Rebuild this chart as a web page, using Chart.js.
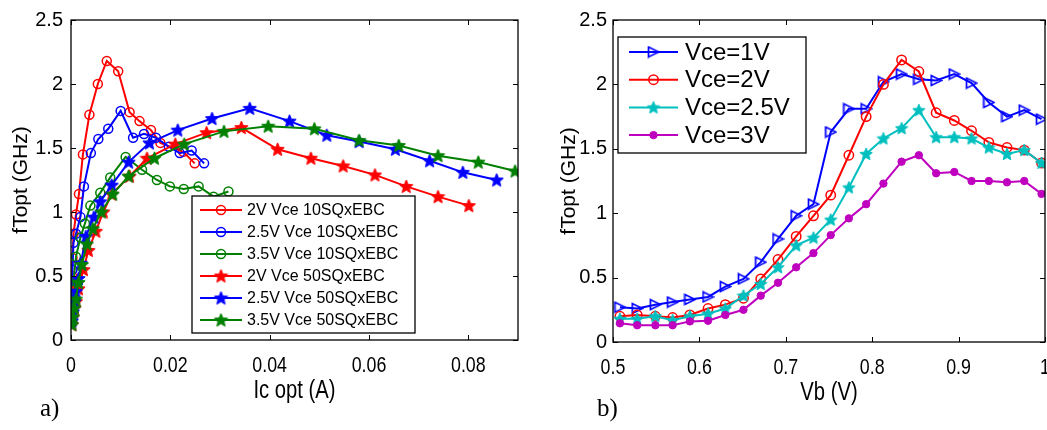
<!DOCTYPE html>
<html>
<head>
<meta charset="utf-8">
<script src="https://cdn.jsdelivr.net/npm/chart.js@4.4.1/dist/chart.umd.min.js"></script>
<style>
html,body{margin:0;padding:0;background:#fff;overflow:hidden;width:1047px;height:430px;}
#w1{position:absolute;left:0;top:0;width:530px;height:430px;}
#w2{position:absolute;left:540px;top:0;width:514px;height:430px;}
.lab{position:absolute;font-family:"Liberation Serif","Times New Roman",serif;font-size:25px;color:#000;}
</style>
</head>
<body>
<div id="w1"><canvas id="c1" width="530" height="430"></canvas></div>
<div id="w2"><canvas id="c2" width="514" height="430"></canvas></div>
<div class="lab" style="left:40px;top:394px;">a)</div>
<div class="lab" style="left:597px;top:394px;">b)</div>
<script>
// ---------- Data: panel a) fTopt vs Ic opt ----------
const leftXTicks = [0, 0.02, 0.04, 0.06, 0.08];
const leftYTicks = [0, 0.5, 1, 1.5, 2, 2.5];

const c10_2V_x  = [0.0001,0.0002,0.0003,0.0005,0.001,0.0016,0.0024,0.0037,0.0054,0.0072,0.0095,0.0118,0.0138,0.0161,0.018,0.0226,0.0249];
const c10_2V_y  = [0.3,0.5,0.64,0.83,0.98,1.14,1.45,1.76,2.0,2.18,2.1,1.78,1.71,1.64,1.54,1.47,1.38];
const c10_25V_x = [0.0001,0.0002,0.0003,0.0005,0.001,0.0019,0.0026,0.004,0.0055,0.0075,0.01,0.0125,0.0147,0.0171,0.0197,0.0219,0.0243,0.0268];
const c10_25V_y = [0.25,0.4,0.55,0.76,0.83,0.96,1.2,1.46,1.57,1.65,1.79,1.58,1.61,1.58,1.51,1.46,1.48,1.38];
const c10_35V_x = [0.0001,0.0002,0.0003,0.0005,0.001,0.0019,0.0028,0.0039,0.0059,0.0079,0.011,0.0143,0.0173,0.0199,0.0227,0.0257,0.0287,0.0317];
const c10_35V_y = [0.13,0.2,0.3,0.45,0.65,0.8,0.91,1.05,1.15,1.27,1.43,1.33,1.25,1.2,1.18,1.2,1.12,1.16];
const s50_2V_x  = [0.0002,0.0004,0.0007,0.001,0.0015,0.0025,0.0035,0.005,0.0065,0.0082,0.0118,0.0153,0.021,0.0273,0.0343,0.0416,0.0483,0.0548,0.0612,0.0675,0.0739,0.0801];
const s50_2V_y  = [0.12,0.18,0.25,0.3,0.4,0.55,0.7,0.85,1.0,1.14,1.28,1.42,1.53,1.62,1.66,1.49,1.42,1.36,1.29,1.2,1.12,1.05];
const s50_25V_x = [0.0002,0.0004,0.0007,0.001,0.0015,0.002,0.003,0.0046,0.0059,0.0082,0.0116,0.0158,0.0215,0.0284,0.036,0.044,0.0515,0.058,0.0653,0.0722,0.0789,0.0857];
const s50_25V_y = [0.15,0.22,0.3,0.38,0.48,0.6,0.81,0.96,1.08,1.21,1.39,1.54,1.64,1.73,1.81,1.71,1.6,1.55,1.49,1.4,1.31,1.25];
const s50_35V_x = [0.0002,0.0004,0.0007,0.001,0.0015,0.0022,0.0032,0.0044,0.0061,0.0084,0.0116,0.0168,0.0228,0.0308,0.0397,0.049,0.058,0.066,0.0739,0.082,0.0894];
const s50_35V_y = [0.12,0.18,0.25,0.32,0.45,0.59,0.75,0.87,1.0,1.14,1.28,1.42,1.53,1.63,1.67,1.65,1.56,1.52,1.44,1.39,1.32];

// ---------- Data: panel b) fTopt vs Vb ----------
const rightXTicks = [0.5, 0.6, 0.7, 0.8, 0.9, 1];
const rightYTicks = [0, 0.5, 1, 1.5, 2, 2.5];
const vb = [0.508,0.528,0.549,0.569,0.589,0.61,0.63,0.651,0.671,0.691,0.712,0.732,0.752,0.773,0.793,0.813,0.834,0.854,0.874,0.895,0.915,0.935,0.956,0.976,0.996];
const vce1V  = [0.27,0.26,0.29,0.31,0.33,0.35,0.43,0.49,0.62,0.8,0.98,1.07,1.63,1.81,1.81,2.02,2.08,2.04,2.03,2.08,2.01,1.86,1.75,1.8,1.73];
const vce2V  = [0.2,0.21,0.2,0.19,0.21,0.26,0.29,0.34,0.49,0.64,0.82,0.98,1.14,1.45,1.75,2.0,2.19,2.1,1.78,1.72,1.64,1.55,1.51,1.49,1.39];
const vce25V = [0.18,0.18,0.2,0.17,0.2,0.22,0.26,0.36,0.45,0.58,0.75,0.81,0.95,1.2,1.46,1.58,1.66,1.8,1.59,1.59,1.58,1.51,1.46,1.49,1.39];
const vce3V  = [0.145,0.13,0.13,0.13,0.16,0.165,0.21,0.25,0.36,0.46,0.58,0.69,0.83,0.96,1.07,1.23,1.4,1.45,1.31,1.32,1.25,1.25,1.24,1.25,1.15];

// ---------- Marker images ----------
function makeStar(color, d) {
  const c = document.createElement('canvas'); c.width = d; c.height = d;
  const g = c.getContext('2d'); const R = d/2 - 0.5, r = R*0.45, cx = d/2, cy = d/2 + 0.5;
  g.beginPath();
  for (let i = 0; i < 10; i++) {
    const a = -Math.PI/2 + i*Math.PI/5; const rad = (i % 2) ? r : R;
    g.lineTo(cx + rad*Math.cos(a), cy + rad*Math.sin(a));
  }
  g.closePath(); g.fillStyle = color; g.fill(); g.strokeStyle = color; g.lineWidth = 1; g.stroke();
  return c;
}
function makeTri(color, d) {
  const c = document.createElement('canvas'); c.width = d; c.height = d;
  const g = c.getContext('2d');
  g.beginPath(); g.moveTo(1.5, 1.5); g.lineTo(d-1.2, d/2); g.lineTo(1.5, d-1.5); g.closePath();
  g.strokeStyle = color; g.lineWidth = 1.7; g.stroke();
  return c;
}
const RED = '#ff0000', BLUE = '#0000ff', GREEN = '#008000', CYAN = '#00bfbf', MAG = '#bf00bf';
const SANS = '"Liberation Sans",Arial,sans-serif';
const SQUEEZE = 0.81;

function pts(xs, ys) { return xs.map((x, i) => ({x: x, y: ys[i]})); }

function circleDS(label, color, xs, ys, r) {
  return {label, data: pts(xs, ys), borderColor: color, backgroundColor: 'rgba(0,0,0,0)',
    pointStyle: 'circle', pointRadius: r, pointBorderWidth: 1.5, pointBorderColor: color,
    pointBackgroundColor: 'rgba(0,0,0,0)', borderWidth: 2, showLine: true, tension: 0};
}
function imgDS(label, color, xs, ys, img) {
  return {label, data: pts(xs, ys), borderColor: color, backgroundColor: color,
    pointStyle: img, pointRadius: img.width/2, borderWidth: 2, showLine: true, tension: 0};
}
function dotDS(label, color, xs, ys, r) {
  return {label, data: pts(xs, ys), borderColor: color, backgroundColor: color,
    pointStyle: 'circle', pointRadius: r, pointBorderWidth: 1, pointBorderColor: color,
    pointBackgroundColor: color, borderWidth: 2, showLine: true, tension: 0};
}

// frame + inner ticks (MATLAB style box) + condensed x tick labels and x title
const framePlugin = {
  id: 'frame',
  afterDatasetsDraw(chart, args, o) {
    const {ctx, chartArea: a, scales} = chart;
    ctx.save();
    ctx.strokeStyle = '#000'; ctx.lineWidth = 1.3;
    ctx.strokeRect(a.left, a.top, a.right - a.left, a.bottom - a.top);
    ctx.lineWidth = 1;
    const L = 5;
    scales.x.ticks.forEach(t => {
      const p = Math.round(scales.x.getPixelForValue(t.value)) + 0.5;
      ctx.beginPath(); ctx.moveTo(p, a.bottom); ctx.lineTo(p, a.bottom - L);
      ctx.moveTo(p, a.top); ctx.lineTo(p, a.top + L); ctx.stroke();
    });
    scales.y.ticks.forEach(t => {
      const p = Math.round(scales.y.getPixelForValue(t.value)) + 0.5;
      ctx.beginPath(); ctx.moveTo(a.left, p); ctx.lineTo(a.left + L, p);
      ctx.moveTo(a.right, p); ctx.lineTo(a.right - L, p); ctx.stroke();
    });
    // x tick labels (condensed, like the reference)
    ctx.fillStyle = '#000';
    ctx.textAlign = 'center'; ctx.textBaseline = 'alphabetic';
    ctx.font = o.tickSize + 'px ' + SANS;
    scales.x.ticks.forEach(t => {
      const p = scales.x.getPixelForValue(t.value);
      ctx.save(); ctx.translate(p, a.bottom + o.tickBase); ctx.scale(SQUEEZE, 1);
      ctx.fillText(String(t.value), 0, 0); ctx.restore();
    });
    // x title
    ctx.font = o.titleSize + 'px ' + SANS;
    ctx.save(); ctx.translate((a.left + a.right) / 2, a.bottom + o.titleBase); ctx.scale(SQUEEZE, 1);
    ctx.fillText(o.xTitle, 0, 0); ctx.restore();
    ctx.restore();
  }
};

// MATLAB style legend (line + marker + text)
const legendPlugin = {
  id: 'mlegend',
  afterDraw(chart, args, o) {
    if (!o || !o.box) return;
    const ctx = chart.ctx;
    ctx.save();
    const [x1, y1, x2, y2] = o.box;
    ctx.fillStyle = '#fff'; ctx.fillRect(x1, y1, x2 - x1, y2 - y1);
    ctx.strokeStyle = '#000'; ctx.lineWidth = 1.3; ctx.strokeRect(x1, y1, x2 - x1, y2 - y1);
    ctx.font = o.font; ctx.textBaseline = 'middle'; ctx.textAlign = 'left';
    chart.data.datasets.forEach((ds, i) => {
      const y = o.y0 + i * o.dy;
      ctx.strokeStyle = ds.borderColor; ctx.lineWidth = 2;
      ctx.beginPath(); ctx.moveTo(o.lx1, y); ctx.lineTo(o.lx2, y); ctx.stroke();
      const mx = (o.lx1 + o.lx2) / 2;
      if (typeof ds.pointStyle === 'object') {
        ctx.drawImage(ds.pointStyle, mx - ds.pointStyle.width/2, y - ds.pointStyle.height/2);
      } else {
        ctx.beginPath(); ctx.arc(mx, y, ds.pointRadius, 0, Math.PI*2);
        ctx.fillStyle = ds.pointBackgroundColor; ctx.fill();
        ctx.lineWidth = ds.pointBorderWidth; ctx.strokeStyle = ds.pointBorderColor; ctx.stroke();
      }
      ctx.fillStyle = '#000';
      ctx.fillText(ds.label, o.tx, y + 1);
    });
    ctx.restore();
  }
};

function xAxis(min, max, tickArr, h) {
  return {
    type: 'linear', min, max,
    afterBuildTicks: s => { s.ticks = tickArr.map(v => ({value: v})); },
    ticks: {display: false},
    grid: {display: false, drawTicks: false},
    border: {display: false},
    afterFit: s => { s.height = h; }
  };
}
function yAxis(min, max, tickArr, w, title, pad) {
  return {
    type: 'linear', min, max,
    afterBuildTicks: s => { s.ticks = tickArr.map(v => ({value: v})); },
    ticks: {callback: v => String(v), font: {family: SANS, size: 20}, color: '#000', padding: pad, autoSkip: false},
    grid: {display: false, drawTicks: false},
    border: {display: false},
    title: {display: true, text: title, font: {family: SANS, size: 21}, color: '#000', padding: {top: 0, bottom: 0}},
    afterFit: s => { s.width = w; }
  };
}

const leftDatasets = [
  circleDS('2V Vce 10SQxEBC', RED, c10_2V_x, c10_2V_y, 4.5),
  circleDS('2.5V Vce 10SQxEBC', BLUE, c10_25V_x, c10_25V_y, 4.5),
  circleDS('3.5V Vce 10SQxEBC', GREEN, c10_35V_x, c10_35V_y, 4.5),
  imgDS('2V Vce 50SQxEBC', RED, s50_2V_x, s50_2V_y, makeStar(RED, 15)),
  imgDS('2.5V Vce 50SQxEBC', BLUE, s50_25V_x, s50_25V_y, makeStar(BLUE, 15)),
  imgDS('3.5V Vce 50SQxEBC', GREEN, s50_35V_x, s50_35V_y, makeStar(GREEN, 15))
];
leftDatasets.forEach((d, i) => { d.order = leftDatasets.length - i; });

new Chart(document.getElementById('c1'), {
  type: 'scatter',
  data: {datasets: leftDatasets},
  options: {
    responsive: false, animation: false, events: [], devicePixelRatio: 1,
    layout: {padding: {left: 9, top: 14, right: 12, bottom: 24}},
    plugins: {legend: {display: false}, tooltip: {enabled: false},
      frame: {tickSize: 22, tickBase: 32, titleSize: 25, titleBase: 58, xTitle: 'Ic opt (A)'},
      mlegend: {box: [192, 196, 415, 333], y0: 210, dy: 22, lx1: 200, lx2: 242, tx: 247, font: '16px ' + SANS}},
    scales: {
      x: xAxis(0, 0.09, leftXTicks, 66),
      y: yAxis(0, 2.5, leftYTicks, 62, 'fTopt (GHz)', 8)
    }
  },
  plugins: [framePlugin, legendPlugin]
});

const rightDatasets = [
  imgDS('Vce=1V', BLUE, vb, vce1V, makeTri(BLUE, 13)),
  circleDS('Vce=2V', RED, vb, vce2V, 4.7),
  imgDS('Vce=2.5V', CYAN, vb, vce25V, makeStar(CYAN, 14)),
  dotDS('Vce=3V', MAG, vb, vce3V, 3.7)
];
rightDatasets.forEach((d, i) => { d.order = rightDatasets.length - i; });

new Chart(document.getElementById('c2'), {
  type: 'scatter',
  data: {datasets: rightDatasets},
  options: {
    responsive: false, animation: false, events: [], devicePixelRatio: 1,
    layout: {padding: {left: 17, top: 20, right: 8, bottom: 21}},
    plugins: {legend: {display: false}, tooltip: {enabled: false},
      frame: {tickSize: 22, tickBase: 32, titleSize: 25, titleBase: 58, xTitle: 'Vb (V)'},
      mlegend: {box: [78, 37, 266, 153], y0: 52, dy: 27.7, lx1: 89, lx2: 138, tx: 145, font: '24px ' + SANS}},
    scales: {
      x: xAxis(0.5, 1, rightXTicks, 67),
      y: yAxis(0, 2.5, rightYTicks, 56, 'fTopt (GHz)', 6)
    }
  },
  plugins: [framePlugin, legendPlugin]
});
</script>
</body>
</html>
